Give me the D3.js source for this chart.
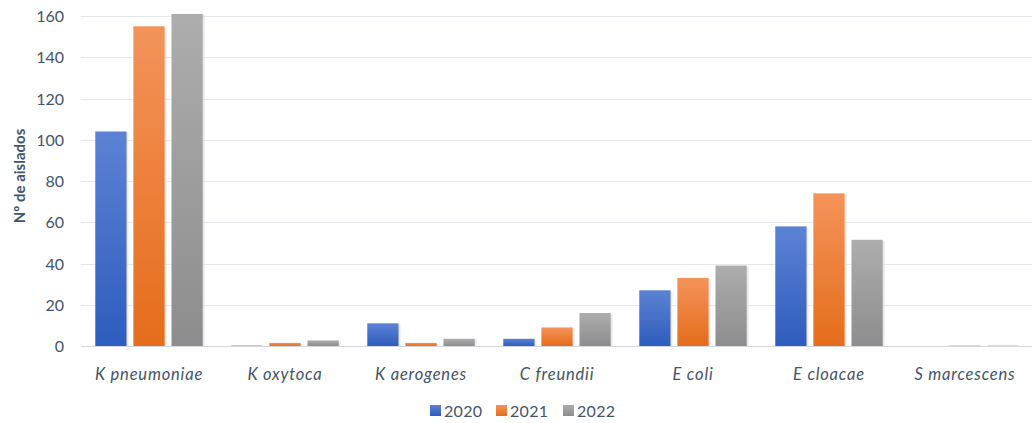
<!DOCTYPE html>
<html>
<head>
<meta charset="utf-8">
<script src="https://cdn.jsdelivr.net/npm/d3@7/dist/d3.min.js"></script>
<style>
  html, body { margin: 0; padding: 0; background: #fff; }
  svg { display: block; }
  text { font-family: Lato, "Open Sans", sans-serif; fill: #44546a; }
</style>
</head>
<body>
<svg id="chart" width="1032" height="423"></svg>
<script>
// Species and yearly isolate counts
const categories = ["K pneumoniae", "K oxytoca", "K aerogenes", "C freundii", "E coli", "E cloacae", "S marcescens"];
const years = ["2020", "2021", "2022"];
const values2020 = [104, 0.4, 11, 3.5, 27, 58, 0];
const values2021 = [155, 1.5, 1.5, 9, 33, 74, 0.4];
const values2022 = [161, 2.7, 3.5, 16, 39, 51.5, 0.4];
const yTicks = [0, 20, 40, 60, 80, 100, 120, 140, 160];
const yTitle = "Nº de aislados";

const series = [values2020, values2021, values2022];
const palette = {
  "2020": ["#5c82d3", "#2e5cbe"],
  "2021": ["#f4935a", "#e56d1b"],
  "2022": ["#adadad", "#8d8d8d"]
};

const svg = d3.select("#chart");
const margin = { top: 16, left: 81 };

const x0 = d3.scaleBand().domain(categories)
  .range([margin.left, 1033]).paddingInner(0.21).paddingOuter(0.105);
const x1 = d3.scaleBand().domain(years)
  .range([0, x0.bandwidth()]).paddingInner(0.18).paddingOuter(0);
const y = d3.scaleLinear().domain([0, 160]).range([346, 16]);

// Vertical gradients per series
const defs = svg.append("defs");
years.forEach(yr => {
  const g = defs.append("linearGradient").attr("id", "grad" + yr)
    .attr("x1", 0).attr("y1", 0).attr("x2", 0).attr("y2", 1);
  g.append("stop").attr("offset", "0%").attr("stop-color", palette[yr][0]);
  g.append("stop").attr("offset", "100%").attr("stop-color", palette[yr][1]);
});

// Gridlines
svg.append("g").selectAll("line").data(yTicks).join("line")
  .attr("x1", margin.left).attr("x2", 1032)
  .attr("y1", d => Math.round(y(d)) + 0.5).attr("y2", d => Math.round(y(d)) + 0.5)
  .attr("stroke", d => d === 0 ? "#d4d8de" : "#e4e7ec")
  .attr("stroke-width", 1.2);

// Y axis labels
const yAxis = d3.axisLeft(y).tickValues(yTicks).tickSize(0).tickPadding(0);
const yg = svg.append("g").attr("transform", "translate(64,0)").call(yAxis);
yg.select(".domain").remove();
yg.selectAll("text").attr("font-size", 16).attr("dy", "0.35em")
  .style("font-family", "Lato, 'Open Sans', sans-serif").attr("fill", "#44546a");

// Axis title
svg.append("text")
  .attr("transform", `translate(25,${(16 + 346) / 2 - 5}) rotate(-90)`)
  .attr("text-anchor", "middle")
  .attr("font-size", 15).attr("font-weight", "bold")
  .text(yTitle);

// Bars
const groups = svg.append("g").selectAll("g").data(categories).join("g")
  .attr("transform", d => `translate(${x0(d)},0)`);

groups.each(function(cat, ci) {
  const g = d3.select(this);
  years.forEach((yr, si) => {
    const v = series[si][ci];
    if (v <= 0) return;
    const h = y(0) - y(v);
    // soft shadow on the right edge
    g.append("rect")
      .attr("x", x1(yr) + 2).attr("y", y(v) + 1)
      .attr("width", x1.bandwidth()).attr("height", Math.max(h - 1, 0))
      .attr("fill", "#d9d9d9").attr("opacity", 0.55);
    g.append("rect")
      .attr("x", x1(yr)).attr("y", y(v))
      .attr("width", x1.bandwidth()).attr("height", h)
      .attr("fill", `url(#grad${yr})`)
      .attr("opacity", v < 1 ? 0.45 : 1);
  });
});

// Category labels
const xAxis = d3.axisBottom(x0).tickSize(0).tickPadding(0);
const xg = svg.append("g").attr("transform", "translate(0,374)").call(xAxis);
xg.select(".domain").remove();
xg.selectAll("text").attr("font-size", 16.5).attr("font-style", "italic")
  .attr("letter-spacing", "0.8px")
  .attr("dy", "0.35em")
  .style("font-family", "Lato, 'Open Sans', sans-serif").attr("fill", "#44546a");

// Legend
const legendX = [430, 496, 563];
const lg = svg.append("g").selectAll("g").data(years).join("g")
  .attr("transform", (d, i) => `translate(${legendX[i]},405)`);
lg.append("rect").attr("width", 11).attr("height", 11)
  .attr("fill", d => `url(#grad${d})`);
lg.append("text").attr("x", 14).attr("y", 6).attr("dy", "0.35em")
  .attr("font-size", 16).attr("letter-spacing", "0.3px").text(d => d);
</script>
</body>
</html>
